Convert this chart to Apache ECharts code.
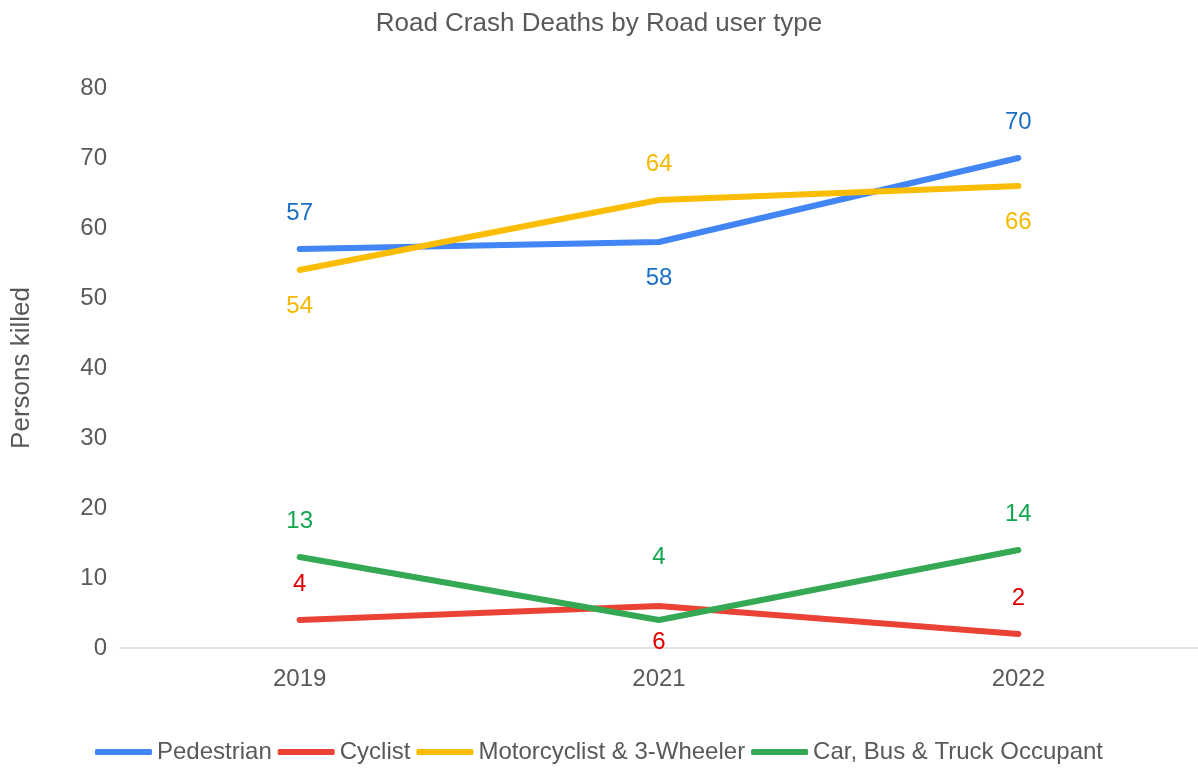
<!DOCTYPE html>
<html>
<head>
<meta charset="utf-8">
<script src="https://cdn.jsdelivr.net/npm/echarts@6/dist/echarts.min.js"></script>
<style>
  html, body { margin: 0; padding: 0; background: #fff; }
  #chart { width: 1198px; height: 769px; }
</style>
</head>
<body>
<div id="chart"></div>
<script>
// data
var years = ['2019', '2021', '2022'];
var pedestrian = [57, 58, 70];
var cyclist = [4, 6, 2];
var motorcyclist = [54, 64, 66];
var carOccupant = [13, 4, 14];

var FONT = 'Arial, "Liberation Sans", sans-serif';
var GREY = '#595959';

// where each value label sits (above or below the point)
function points(values, where, labelColor, extra) {
  return values.map(function (v, i) {
    var d = extra && extra[i] ? extra[i] : 24;
    return {
      value: v,
      label: { position: where[i], distance: d, color: labelColor }
    };
  });
}

function makeSeries(name, lineColor, data) {
  return {
    name: name,
    type: 'line',
    data: data,
    symbol: 'circle',
    symbolSize: 0.1,
    showSymbol: true,
    lineStyle: { color: lineColor, width: 6, cap: 'round', join: 'round' },
    itemStyle: { color: lineColor },
    label: {
      show: true,
      fontFamily: FONT,
      fontSize: 24
    },
    emphasis: { disabled: true },
    z: 2
  };
}

var chart = echarts.init(document.getElementById('chart'));

var option = {
  animation: false,
  title: {
    text: 'Road Crash Deaths by Road user type',
    left: 'center',
    top: 6,
    textStyle: { color: GREY, fontFamily: FONT, fontSize: 26, fontWeight: 'normal' }
  },
  legend: {
    bottom: 0,
    left: 'center',
    itemWidth: 57,
    itemHeight: 6,
    itemGap: 6,
    icon: 'roundRect',
    textStyle: { color: GREY, fontFamily: FONT, fontSize: 24 },
    data: ['Pedestrian', 'Cyclist', 'Motorcyclist & 3-Wheeler', 'Car, Bus & Truck Occupant']
  },
  grid: { left: 120, right: 0, top: 88, bottom: 121 },
  xAxis: {
    type: 'category',
    data: years,
    boundaryGap: true,
    axisLine: { lineStyle: { color: '#d9d9d9', width: 1.5 } },
    axisTick: { show: false },
    axisLabel: { color: GREY, fontFamily: FONT, fontSize: 24, margin: 19 }
  },
  yAxis: {
    type: 'value',
    min: 0,
    max: 80,
    interval: 10,
    name: 'Persons killed',
    nameLocation: 'middle',
    nameGap: 85,
    nameTextStyle: { color: GREY, fontFamily: FONT, fontSize: 26 },
    splitLine: { show: false },
    axisLine: { show: false },
    axisTick: { show: false },
    axisLabel: { color: GREY, fontFamily: FONT, fontSize: 24, margin: 13 }
  },
  series: [
    makeSeries('Pedestrian', '#4285F4',
      points(pedestrian, ['top', 'bottom', 'top'], '#1a6fc4')),
    makeSeries('Cyclist', '#EA4335',
      points(cyclist, ['top', 'bottom', 'top'], '#e00000')),
    makeSeries('Motorcyclist & 3-Wheeler', '#FBBC04',
      points(motorcyclist, ['bottom', 'top', 'bottom'], '#f5b800')),
    makeSeries('Car, Bus & Truck Occupant', '#34A853',
      points(carOccupant, ['top', 'top', 'top'], '#12a650', [24, 51, 24]))
  ]
};

chart.setOption(option);
</script>
</body>
</html>
